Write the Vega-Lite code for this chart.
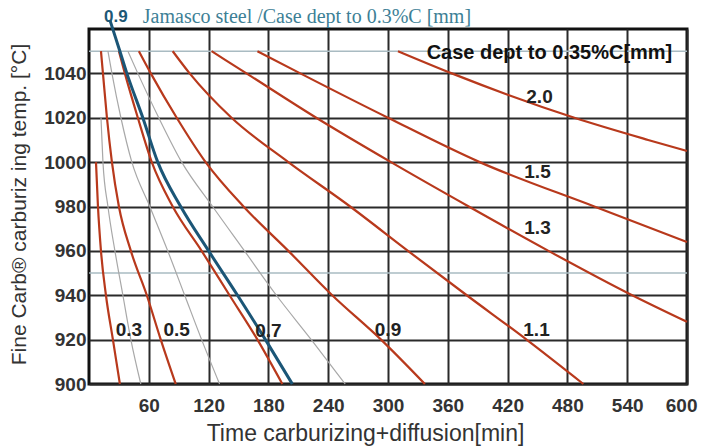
{
  "$schema": "https://vega.github.io/schema/vega-lite/v6.json",
  "width": 598,
  "height": 355,
  "autosize": {"type": "none"},
  "padding": {"left": 89, "top": 29, "right": 14, "bottom": 64},
  "background": "white",
  "config": {"view": {"stroke": "#111111", "strokeWidth": 3}, "font": "Liberation Sans"},
  "datasets": {
    "refs": [
      {"ref": "950", "t": 0, "T": 950}, {"ref": "950", "t": 600, "T": 950},
      {"ref": "1050", "t": 0, "T": 1050}, {"ref": "1050", "t": 600, "T": 1050}
    ],
    "curves": [
      {"set": "0.35%C", "depth": "0.3", "t": 7, "T": 1000},
      {"set": "0.35%C", "depth": "0.3", "t": 9, "T": 980},
      {"set": "0.35%C", "depth": "0.3", "t": 12, "T": 960},
      {"set": "0.35%C", "depth": "0.3", "t": 17, "T": 940},
      {"set": "0.35%C", "depth": "0.3", "t": 24, "T": 920},
      {"set": "0.35%C", "depth": "0.3", "t": 31, "T": 900},
      {"set": "0.35%C", "depth": "0.5", "t": 12, "T": 1050},
      {"set": "0.35%C", "depth": "0.5", "t": 14, "T": 1040},
      {"set": "0.35%C", "depth": "0.5", "t": 18, "T": 1020},
      {"set": "0.35%C", "depth": "0.5", "t": 23, "T": 1000},
      {"set": "0.35%C", "depth": "0.5", "t": 30, "T": 980},
      {"set": "0.35%C", "depth": "0.5", "t": 42, "T": 960},
      {"set": "0.35%C", "depth": "0.5", "t": 58, "T": 940},
      {"set": "0.35%C", "depth": "0.5", "t": 72, "T": 920},
      {"set": "0.35%C", "depth": "0.5", "t": 87, "T": 900},
      {"set": "0.35%C", "depth": "0.7", "t": 30, "T": 1050},
      {"set": "0.35%C", "depth": "0.7", "t": 36, "T": 1040},
      {"set": "0.35%C", "depth": "0.7", "t": 49, "T": 1020},
      {"set": "0.35%C", "depth": "0.7", "t": 63, "T": 1000},
      {"set": "0.35%C", "depth": "0.7", "t": 84, "T": 980},
      {"set": "0.35%C", "depth": "0.7", "t": 113, "T": 960},
      {"set": "0.35%C", "depth": "0.7", "t": 141, "T": 940},
      {"set": "0.35%C", "depth": "0.7", "t": 169, "T": 920},
      {"set": "0.35%C", "depth": "0.7", "t": 194, "T": 900},
      {"set": "0.35%C", "depth": "0.9", "t": 50, "T": 1050},
      {"set": "0.35%C", "depth": "0.9", "t": 62, "T": 1040},
      {"set": "0.35%C", "depth": "0.9", "t": 88, "T": 1020},
      {"set": "0.35%C", "depth": "0.9", "t": 117, "T": 1000},
      {"set": "0.35%C", "depth": "0.9", "t": 155, "T": 980},
      {"set": "0.35%C", "depth": "0.9", "t": 200, "T": 960},
      {"set": "0.35%C", "depth": "0.9", "t": 244, "T": 940},
      {"set": "0.35%C", "depth": "0.9", "t": 293, "T": 920},
      {"set": "0.35%C", "depth": "0.9", "t": 337, "T": 900},
      {"set": "0.35%C", "depth": "1.1", "t": 84, "T": 1050},
      {"set": "0.35%C", "depth": "1.1", "t": 101, "T": 1040},
      {"set": "0.35%C", "depth": "1.1", "t": 143, "T": 1020},
      {"set": "0.35%C", "depth": "1.1", "t": 200, "T": 1000},
      {"set": "0.35%C", "depth": "1.1", "t": 262, "T": 980},
      {"set": "0.35%C", "depth": "1.1", "t": 320, "T": 960},
      {"set": "0.35%C", "depth": "1.1", "t": 379, "T": 940},
      {"set": "0.35%C", "depth": "1.1", "t": 439, "T": 920},
      {"set": "0.35%C", "depth": "1.1", "t": 496, "T": 900},
      {"set": "0.35%C", "depth": "1.3", "t": 123, "T": 1050},
      {"set": "0.35%C", "depth": "1.3", "t": 158, "T": 1040},
      {"set": "0.35%C", "depth": "1.3", "t": 228, "T": 1020},
      {"set": "0.35%C", "depth": "1.3", "t": 303, "T": 1000},
      {"set": "0.35%C", "depth": "1.3", "t": 381, "T": 980},
      {"set": "0.35%C", "depth": "1.3", "t": 461, "T": 960},
      {"set": "0.35%C", "depth": "1.3", "t": 545, "T": 940},
      {"set": "0.35%C", "depth": "1.3", "t": 600, "T": 928},
      {"set": "0.35%C", "depth": "1.5", "t": 169, "T": 1050},
      {"set": "0.35%C", "depth": "1.5", "t": 212, "T": 1040},
      {"set": "0.35%C", "depth": "1.5", "t": 300, "T": 1020},
      {"set": "0.35%C", "depth": "1.5", "t": 392, "T": 1000},
      {"set": "0.35%C", "depth": "1.5", "t": 507, "T": 980},
      {"set": "0.35%C", "depth": "1.5", "t": 600, "T": 964},
      {"set": "0.35%C", "depth": "2.0", "t": 310, "T": 1050},
      {"set": "0.35%C", "depth": "2.0", "t": 364, "T": 1040},
      {"set": "0.35%C", "depth": "2.0", "t": 487, "T": 1020},
      {"set": "0.35%C", "depth": "2.0", "t": 561, "T": 1010},
      {"set": "0.35%C", "depth": "2.0", "t": 600, "T": 1005},
      {"set": "intermediate", "depth": "a", "t": 12, "T": 1020},
      {"set": "intermediate", "depth": "a", "t": 14, "T": 1000},
      {"set": "intermediate", "depth": "a", "t": 19, "T": 980},
      {"set": "intermediate", "depth": "a", "t": 26, "T": 960},
      {"set": "intermediate", "depth": "a", "t": 34, "T": 940},
      {"set": "intermediate", "depth": "a", "t": 42, "T": 920},
      {"set": "intermediate", "depth": "a", "t": 52, "T": 900},
      {"set": "intermediate", "depth": "b", "t": 19, "T": 1050},
      {"set": "intermediate", "depth": "b", "t": 23, "T": 1040},
      {"set": "intermediate", "depth": "b", "t": 32, "T": 1020},
      {"set": "intermediate", "depth": "b", "t": 43, "T": 1000},
      {"set": "intermediate", "depth": "b", "t": 61, "T": 980},
      {"set": "intermediate", "depth": "b", "t": 79, "T": 960},
      {"set": "intermediate", "depth": "b", "t": 96, "T": 940},
      {"set": "intermediate", "depth": "b", "t": 113, "T": 920},
      {"set": "intermediate", "depth": "b", "t": 131, "T": 900},
      {"set": "intermediate", "depth": "c", "t": 39, "T": 1050},
      {"set": "intermediate", "depth": "c", "t": 49, "T": 1040},
      {"set": "intermediate", "depth": "c", "t": 70, "T": 1020},
      {"set": "intermediate", "depth": "c", "t": 93, "T": 1000},
      {"set": "intermediate", "depth": "c", "t": 124, "T": 980},
      {"set": "intermediate", "depth": "c", "t": 156, "T": 960},
      {"set": "intermediate", "depth": "c", "t": 188, "T": 940},
      {"set": "intermediate", "depth": "c", "t": 223, "T": 920},
      {"set": "intermediate", "depth": "c", "t": 257, "T": 900},
      {"set": "Jamasco 0.3%C", "depth": "0.9", "t": 21, "T": 1064},
      {"set": "Jamasco 0.3%C", "depth": "0.9", "t": 31, "T": 1050},
      {"set": "Jamasco 0.3%C", "depth": "0.9", "t": 38, "T": 1040},
      {"set": "Jamasco 0.3%C", "depth": "0.9", "t": 54, "T": 1020},
      {"set": "Jamasco 0.3%C", "depth": "0.9", "t": 69, "T": 1000},
      {"set": "Jamasco 0.3%C", "depth": "0.9", "t": 92, "T": 980},
      {"set": "Jamasco 0.3%C", "depth": "0.9", "t": 120, "T": 960},
      {"set": "Jamasco 0.3%C", "depth": "0.9", "t": 149, "T": 940},
      {"set": "Jamasco 0.3%C", "depth": "0.9", "t": 177, "T": 920},
      {"set": "Jamasco 0.3%C", "depth": "0.9", "t": 204, "T": 900}
    ],
    "labels": [
      {"text": "0.3", "t": 40, "T": 924.5},
      {"text": "0.5", "t": 88, "T": 924.5},
      {"text": "0.7", "t": 180, "T": 924},
      {"text": "0.9", "t": 300, "T": 924.5},
      {"text": "1.1", "t": 449, "T": 924.5},
      {"text": "1.3", "t": 450, "T": 970.5},
      {"text": "1.5", "t": 450, "T": 995.5},
      {"text": "2.0", "t": 452, "T": 1029.5}
    ],
    "notes": [{"text": "Case dept to 0.35%C[mm]", "t": 462, "T": 1049}],
    "head": [{"text": "0.9", "t": 27, "T": 1065.5}],
    "headText": [{"text": "Jamasco steel /Case dept to 0.3%C [mm]", "t": 54, "T": 1065.5}]
  },
  "encoding": {
    "x": {"field": "t", "type": "quantitative", "scale": {"domain": [0, 600], "nice": false, "zero": false},
      "axis": {"values": [60, 120, 180, 240, 300, 360, 420, 480, 540, 600], "format": "d", "title": "Time carburizing+diffusion[min]",
        "grid": true, "gridColor": "#2a2a2a", "gridWidth": 2, "ticks": false, "domain": false, "labelFlush": true, "labelFlushOffset": 10,
        "labelFont": "Liberation Sans", "labelFontSize": 19, "labelFontWeight": "bold", "labelColor": "#333333", "labelPadding": 12,
        "titleFont": "Liberation Sans", "titleFontSize": 23, "titleFontWeight": "normal", "titleColor": "#333333",
        "titleX": 276, "titleY": 56, "titleBaseline": "alphabetic", "titleAlign": "center"}},
    "y": {"field": "T", "type": "quantitative", "scale": {"domain": [900, 1060], "nice": false, "zero": false},
      "axis": {"values": [900, 920, 940, 960, 980, 1000, 1020, 1040], "format": "d", "title": "Fine Carb® carburiz ing temp. [°C]",
        "grid": true, "gridColor": "#2a2a2a", "gridWidth": 2, "ticks": false, "domain": false, "labelFlush": false,
        "labelFont": "Liberation Sans", "labelFontSize": 19, "labelFontWeight": "bold", "labelColor": "#333333", "labelPadding": 3,
        "titleFont": "Liberation Sans", "titleFontSize": 21, "titleFontWeight": "normal", "titleColor": "#333333",
        "titleX": -70, "titleY": 175, "titleAngle": -90, "titleAlign": "center", "titleBaseline": "middle"}}
  },
  "layer": [
    {
      "data": {"name": "refs"},
      "mark": {"type": "line", "color": "#a9bbc2", "strokeWidth": 1.5},
      "encoding": {"detail": {"field": "ref"}}
    },
    {
      "data": {"name": "curves"},
      "transform": [{"filter": "datum.set === 'intermediate'"}],
      "mark": {"type": "line", "color": "#a8a8a8", "strokeWidth": 1.2, "interpolate": "monotone"},
      "encoding": {"detail": {"field": "depth"}, "order": {"field": "t"}}
    },
    {
      "data": {"name": "curves"},
      "transform": [{"filter": "datum.set === '0.35%C'"}],
      "mark": {"type": "line", "color": "#b8391c", "strokeWidth": 2.2, "interpolate": "monotone"},
      "encoding": {"detail": {"field": "depth"}, "order": {"field": "t"}}
    },
    {
      "data": {"name": "curves"},
      "transform": [{"filter": "datum.set === 'Jamasco 0.3%C'"}],
      "mark": {"type": "line", "color": "#1b5677", "strokeWidth": 3, "interpolate": "monotone"},
      "encoding": {"order": {"field": "t"}}
    },
    {
      "data": {"name": "labels"},
      "mark": {"type": "text", "font": "Liberation Sans", "fontSize": 19, "fontWeight": "bold", "color": "#222222", "align": "center", "baseline": "middle"},
      "encoding": {"text": {"field": "text"}}
    },
    {
      "data": {"name": "notes"},
      "mark": {"type": "text", "font": "Liberation Sans", "fontSize": 20, "fontWeight": "bold", "color": "#111111", "align": "center", "baseline": "middle"},
      "encoding": {"text": {"field": "text"}}
    },
    {
      "data": {"name": "head"},
      "mark": {"type": "text", "font": "Liberation Sans", "fontSize": 17, "fontWeight": "bold", "color": "#1d5876", "align": "center", "baseline": "middle"},
      "encoding": {"text": {"field": "text"}}
    },
    {
      "data": {"name": "headText"},
      "mark": {"type": "text", "font": "Liberation Serif", "fontSize": 20, "color": "#3d7f96", "align": "left", "baseline": "middle"},
      "encoding": {"text": {"field": "text"}}
    }
  ]
}
